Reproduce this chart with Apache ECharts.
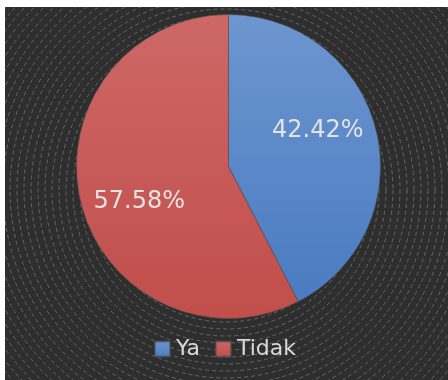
<!DOCTYPE html>
<html>
<head>
<meta charset="utf-8">
<script src="https://cdn.jsdelivr.net/npm/echarts@6/dist/echarts.min.js"></script>
<style>
html,body{margin:0;padding:0;background:#ffffff;}
#chart{width:448px;height:380px;}
</style>
</head>
<body>
<div id="chart"></div>
<script>
var categories = ['Ya', 'Tidak'];
var values = [42.42, 57.58];
var colorsTop = ['#6d96cf', '#cd6866'];
var colorsBottom = ['#4a7bc1', '#c14e4b'];

var chart = echarts.init(document.getElementById('chart'), null, {renderer: 'canvas'});

var cx = 228.5, cy = 166.5, R = 152;
var bgCx = 226, bgCy = 190;
var rings = [];
for (var r = 6; r < 340; r += 7) {
  rings.push({
    type: 'circle',
    shape: {cx: bgCx, cy: bgCy, r: r},
    style: {fill: null, stroke: '#666666', lineWidth: 1, lineDash: [4, 3]},
    silent: true
  });
}

var pieData = categories.map(function (c, i) {
  return {
    name: c,
    value: values[i],
    itemStyle: {
      color: new echarts.graphic.LinearGradient(0, 0, 0, 1, [
        {offset: 0, color: colorsTop[i]},
        {offset: 1, color: colorsBottom[i]}
      ])
    }
  };
});

var option = {
  backgroundColor: '#ffffff',
  animation: false,
  graphic: [
    {
      type: 'group',
      z: -10,
      silent: true,
      children: [
        {
          type: 'rect',
          shape: {x: 5, y: 7, width: 443, height: 373},
          style: {fill: '#2e2e2e'}
        },
        {
          type: 'group',
          clipPath: {type: 'rect', shape: {x: 5, y: 7, width: 443, height: 373}},
          children: rings
        }
      ]
    }
  ],
  legend: {
    data: categories,
    left: 149,
    top: 332,
    icon: 'rect',
    itemWidth: 15,
    itemHeight: 15,
    itemGap: 15,
    textStyle: {
      color: '#d9d9d9',
      fontFamily: 'DejaVu Sans',
      fontSize: 22,
      lineHeight: 24,
      padding: [0, 0, 0, 1]
    }
  },
  series: [
    {
      type: 'pie',
      center: [cx, cy],
      radius: [0, R],
      startAngle: 90,
      clockwise: true,
      label: {show: false},
      labelLine: {show: false},
      itemStyle: {borderColor: 'rgba(80,80,80,0.6)', borderWidth: 1},
      data: pieData,
      z: 2
    },
    {
      type: 'pie',
      center: [cx, cy],
      radius: [34, R],
      startAngle: 98,
      clockwise: true,
      silent: true,
      itemStyle: {color: 'rgba(0,0,0,0)', borderWidth: 0},
      label: {
        show: true,
        position: 'inside',
        formatter: function (p) { return p.value.toFixed(2) + '%'; },
        color: '#e3e3e3',
        fontFamily: 'DejaVu Sans',
        fontSize: 24
      },
      labelLine: {show: false},
      data: categories.map(function (c, i) { return {name: c, value: values[i]}; }),
      z: 3
    }
  ]
};
chart.setOption(option);
</script>
</body>
</html>
